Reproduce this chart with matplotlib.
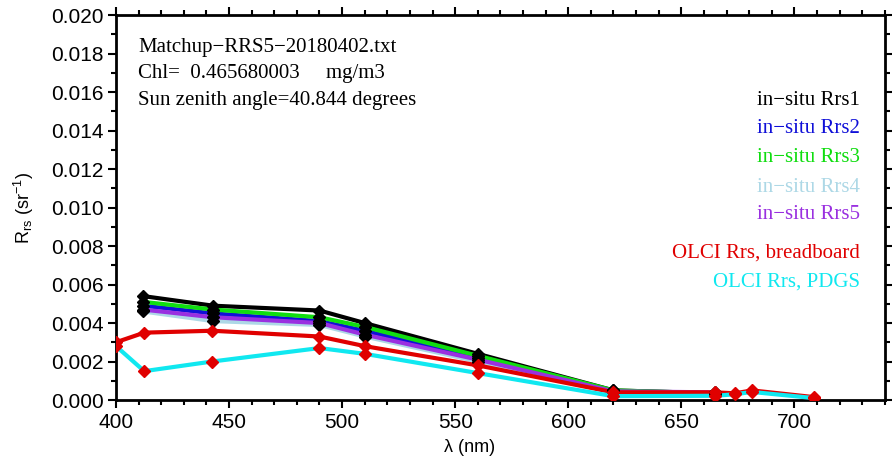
#!/usr/bin/env python3

import matplotlib
matplotlib.use("Agg")
import matplotlib.pyplot as plt
from matplotlib.ticker import MultipleLocator, FormatStrFormatter

# in-situ wavelengths and spectra
insitu_wl = [412, 443, 490, 510, 560, 620, 665]
rrs1 = [0.0054, 0.0049, 0.00465, 0.0040, 0.0024, 0.0005, 0.00035]
rrs2 = [0.0049, 0.0045, 0.0041, 0.0036, 0.0022, 0.00045, 0.0003]
rrs3 = [0.0051, 0.0047, 0.0043, 0.0038, 0.0023, 0.0005, 0.00035]
rrs4 = [0.0046, 0.0041, 0.0039, 0.0033, 0.0020, 0.0004, 0.0003]
rrs5 = [0.0047, 0.0043, 0.0040, 0.0034, 0.0021, 0.00045, 0.0004]

# OLCI bands
olci_wl = [400, 412.5, 442.5, 490, 510, 560, 620, 665, 673.75, 681.25, 708.75]
olci_bb = [0.0030, 0.0035, 0.0036, 0.0033, 0.0028, 0.0018, 0.0004, 0.0004, 0.00035, 0.0005, 0.00015]
olci_pdgs = [0.0028, 0.0015, 0.0020, 0.0027, 0.0024, 0.0014, 0.0002, 0.00022, 0.0003, 0.00042, 0.0001]

insitu = [("in\u2212situ Rrs1", rrs1, "black"),
          ("in\u2212situ Rrs2", rrs2, "#1010d8"),
          ("in\u2212situ Rrs3", rrs3, "#10dd10"),
          ("in\u2212situ Rrs4", rrs4, "#add8e6"),
          ("in\u2212situ Rrs5", rrs5, "#9a30e0")]
olci = [("OLCI Rrs, breadboard", olci_bb, "#e00000"),
        ("OLCI Rrs, PDGS", olci_pdgs, "#10e8f0")]

info_lines = ["Matchup\u2212RRS5\u221220180402.txt",
              "Chl=  0.465680003     mg/m3",
              "Sun zenith angle=40.844 degrees"]

plt.rcParams['font.family'] = ['Liberation Sans', 'DejaVu Sans']
plt.rcParams['mathtext.fontset'] = 'custom'
plt.rcParams['mathtext.rm'] = 'Liberation Sans'
plt.rcParams['mathtext.it'] = 'Liberation Sans:italic'

fig = plt.figure(figsize=(8.92, 4.63), dpi=100)
ax = fig.add_axes([0.130, 0.136, 0.862, 0.8315])

for name, vals, col in insitu:
    ax.plot(insitu_wl, vals, color=col, lw=3, zorder=2)
for name, vals, col in olci:
    ax.plot(olci_wl, vals, color=col, lw=3, zorder=3)

for name, vals, col in insitu:
    ax.plot(insitu_wl, vals, ls='none', marker='D', ms=6.5, color='black', zorder=4)
for name, vals, col in olci:
    ax.plot(olci_wl, vals, ls='none', marker='D', ms=6.5, color='#e00000', zorder=5)

ax.set_xlim(400, 740)
ax.set_ylim(0, 0.020)
ax.xaxis.set_major_locator(MultipleLocator(50))
ax.xaxis.set_minor_locator(MultipleLocator(10))
ax.yaxis.set_major_locator(MultipleLocator(0.002))
ax.yaxis.set_minor_locator(MultipleLocator(0.001))
ax.yaxis.set_major_formatter(FormatStrFormatter('%.3f'))
ax.tick_params(which='both', direction='out', top=True, right=True, width=1.5, labelsize=15, pad=3)
ax.tick_params(which='major', length=6)
ax.tick_params(which='minor', length=3.5)
for sp in ax.spines.values():
    sp.set_linewidth(2)

ax.set_xlabel("\u03bb (nm)", fontsize=13)
ax.xaxis.set_label_coords(0.46, -0.10)
ax.set_ylabel(r"R$_{\rm rs}$ (sr$^{-1}$)", fontsize=13)
ax.yaxis.set_label_coords(-0.104, 0.5)

for i, line in enumerate(info_lines):
    ax.text(0.0286, 0.917 - i * 0.07, line, transform=ax.transAxes, ha='left', va='center',
            family='Liberation Serif', fontsize=15)

legend_y = [0.779, 0.705, 0.629, 0.553, 0.481, 0.382, 0.306]
for (name, vals, col), y in zip(insitu + olci, legend_y):
    ax.text(0.9675, y, name, transform=ax.transAxes, ha='right', va='center',
            family='Liberation Serif', fontsize=15, color=col)

plt.savefig("out.png", dpi=100)
